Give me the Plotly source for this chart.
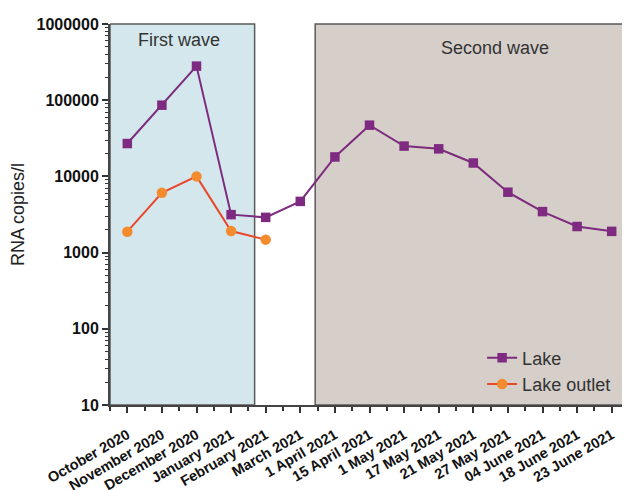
import plotly.graph_objects as go

categories = ["October 2020", "November 2020", "December 2020", "January 2021",
              "February 2021", "March 2021", "1 April 2021", "15 April 2021",
              "1 May 2021", "17 May 2021", "21 May 2021", "27 May 2021",
              "04 June 2021", "18 June 2021", "23 June 2021"]
lake = [27000, 86000, 280000, 3150, 2900, 4700, 18000, 47000,
        25000, 23000, 15000, 6200, 3450, 2200, 1900]
outlet_categories = categories[:5]
lake_outlet = [1880, 6100, 10000, 1920, 1480]

ytick_vals = [10, 100, 1000, 10000, 100000, 1000000]
ytick_text = ["10", "100", "1000", "10000", "100000", "1000000"]
minor_vals = [m * v for v in ytick_vals[:-1] for m in range(2, 10)]

waves = [("First wave", -0.5, 3.68, "#d3e7ec", 1.5, 0.958),
         ("Second wave", 5.43, 14.5, "#d5cec9", 10.63, 0.937)]

xi = list(range(len(categories)))
xo = list(range(len(outlet_categories)))

fig = go.Figure()
fig.add_trace(go.Scatter(x=xi, y=lake, mode="lines+markers", name="Lake",
                         line=dict(color="#7d2b7d", width=2),
                         marker=dict(symbol="square", size=9.5, color="#7e2a80")))
fig.add_trace(go.Scatter(x=xo, y=lake_outlet, mode="lines+markers", name="Lake outlet",
                         line=dict(color="#e8482c", width=2),
                         marker=dict(symbol="circle", size=10.5, color="#f48b2f")))

for name, x0, x1, col, tx, ty in waves:
    fig.add_shape(type="rect", xref="x", yref="paper", x0=x0, x1=x1, y0=0, y1=1,
                  fillcolor=col, line=dict(color="#5a5a5a", width=1.5), layer="below")
    fig.add_annotation(text=name, x=tx, y=ty, xref="x", yref="paper", showarrow=False,
                       xanchor="center", yanchor="middle",
                       font=dict(size=18, color="#333333", family="Liberation Sans"))

fig.update_layout(
    width=622, height=482,
    margin=dict(l=102, r=1, t=16, b=85),
    paper_bgcolor="white", plot_bgcolor="white",
    font=dict(family="Liberation Sans", color="#222222"),
    showlegend=True,
    legend=dict(x=0.717, y=0.172, xanchor="left", yanchor="top",
                bgcolor="rgba(0,0,0,0)", font=dict(size=18, color="#333333"),
                tracegroupgap=0, itemwidth=30),
)
fig.update_xaxes(range=[-0.5, 14.5], tickmode="array", tickvals=xi, ticktext=categories,
                 tickangle=-30, ticks="outside", ticklen=6, tickwidth=2, tickcolor="#333333",
                 ticklabelstandoff=8,
                 minor=dict(tick0=0.5, dtick=1, ticks="outside", ticklen=4, tickwidth=1.5,
                            tickcolor="#333333", showgrid=False),
                 showline=True, linecolor="#444444", linewidth=2, mirror=False,
                 showgrid=False, zeroline=False, automargin=False,
                 tickfont=dict(size=14.5, color="#111111", family="Liberation Sans", weight="bold"))
fig.update_yaxes(type="log", range=[1, 6], tickmode="array", tickvals=ytick_vals,
                 ticktext=ytick_text, ticks="outside", ticklen=6, tickwidth=2,
                 tickcolor="#333333",
                 minor=dict(tickmode="array", tickvals=minor_vals, ticks="outside",
                            ticklen=3, tickwidth=1, tickcolor="#333333", showgrid=False),
                 showline=True, linecolor="#444444", linewidth=2,
                 showgrid=False, zeroline=False, automargin=False,
                 title=dict(text="RNA copies/l", font=dict(size=18, color="#222222"), standoff=8),
                 tickfont=dict(size=16, color="#111111", family="Liberation Sans", weight="bold"))

fig.write_html("out.html")
